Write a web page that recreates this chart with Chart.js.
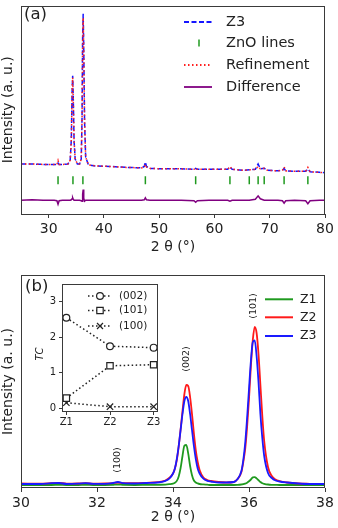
<!DOCTYPE html>
<html>
<head>
<meta charset="utf-8">
<script src="https://cdn.jsdelivr.net/npm/chart.js@4/dist/chart.umd.min.js"></script>
<style>
  body { margin: 0; background: #fff; }
  #wrap { position: relative; width: 338px; height: 528px; overflow: hidden; }
  canvas { position: absolute; }
</style>
</head>
<body>
<div id="wrap">
  <canvas id="chartA" width="338" height="262" style="left:0;top:0"></canvas>
  <canvas id="chartB" width="338" height="266" style="left:0;top:262px"></canvas>
  <canvas id="inset" width="145" height="160" style="left:20px;top:275px"></canvas>
</div>
<script>
// ---- panel (a): full pattern of Z3 with refinement ----
const thetaA = [25, 27, 29, 31.0, 31.5, 31.7, 31.9, 32.5, 33.5, 33.9, 34.1, 34.25, 34.35, 34.45, 34.6, 34.8,
  35.2, 35.6, 35.9, 36.05, 36.15, 36.25, 36.35, 36.5, 36.7, 37.2, 38.5, 41, 44, 46.8, 47.3, 47.5, 47.7, 48.3,
  51, 54, 56.3, 56.6, 56.9, 59, 62.4, 62.8, 63.2, 65.5, 66.3, 67.4, 67.9, 68.3, 69.0, 69.6, 71.5, 72.3, 72.6,
  72.9, 74.5, 76.5, 76.9, 77.3, 79, 80];
const z3A = [51, 51, 50.5, 50.5, 50.5, 52, 50.5, 50.5, 51, 55, 75, 125, 141, 120, 75, 56,
  51, 51, 56, 100, 180, 204, 170, 95, 58, 50, 49, 48.5, 47.5, 47, 48.5, 53, 48.5, 46.5,
  46, 46, 45.5, 46.5, 45.5, 45.5, 45.5, 48, 45.5, 44.5, 45, 45.5, 51, 46, 46.5, 44.5, 44, 44.5, 46.5,
  44, 43.5, 43.5, 46, 43, 42.5, 42];
const refA = [51, 51, 50.5, 50.5, 50.5, 54.5, 50.5, 50.5, 51, 55, 75, 124, 139, 119, 75, 56,
  51, 51, 56, 99, 176, 200, 168, 94, 58, 50, 49, 48.5, 47.5, 47, 48, 50.5, 48, 46.5,
  46, 46, 45.5, 47, 45.5, 45.5, 45.5, 48.5, 45.5, 44.5, 45, 45.5, 48.5, 46, 46.5, 44.5, 44, 44.5, 48,
  44, 43.5, 43.5, 47.5, 43, 42.5, 42];
const diffA = [14, 14.5, 14, 14, 13.5, 10, 13.5, 14, 14, 14, 14.5, 15.5, 16.5, 15, 14, 14,
  14, 14, 13.5, 13, 20, 25, 16, 13, 14, 14, 14, 14, 14, 14, 14.5, 16.5, 14.5, 14,
  14, 14, 13.5, 12, 13.5, 14, 14, 13, 14, 14, 14, 15, 18.5, 15.5, 14, 14, 14, 13.5, 11,
  13.5, 14, 13.5, 10.5, 13.5, 14, 14];
const znoLines = [31.7, 34.4, 36.2, 47.5, 56.6, 62.8, 66.3, 67.9, 69.0, 72.6, 76.9];
const znoLevel = 34.5;
const xTicksA = [30, 40, 50, 60, 70, 80];

// ---- panel (b): zoom on the (100), (002), (101) peaks ----
const thetaB = [30.0, 30.5, 30.8, 31.0, 31.2, 31.5, 31.7, 31.9, 32.2, 32.4, 32.55, 32.7, 33.0, 33.3, 33.6,
  33.8, 33.9, 34.0, 34.05, 34.1, 34.15, 34.2, 34.25, 34.3, 34.35, 34.4, 34.45, 34.5, 34.55, 34.6, 34.65, 34.7,
  34.8, 34.9, 35.0, 35.2, 35.4, 35.6, 35.7, 35.8, 35.85, 35.9, 35.95, 36.0, 36.05, 36.1, 36.15, 36.2, 36.25,
  36.3, 36.35, 36.4, 36.5, 36.6, 36.7, 36.8, 37.0, 37.3, 37.6, 38.0];
const z1B = [3, 3, 3, 3.2, 3, 3, 3.1, 3, 3, 3.1, 3.5, 3.1, 3, 3.1, 3.2,
  3.4, 3.8, 4.4, 5.3, 7.1, 11.6, 20, 32, 42.4, 43, 34.6, 22, 12.8, 7.5, 5.5, 4.6, 4,
  3.6, 3.3, 3, 3, 3, 3, 3.1, 3.5, 3.8, 4.4, 5.3, 6.7, 8.5, 10.6, 10.8, 9.6, 7.8,
  6, 4.8, 4.2, 3.5, 3.2, 3.1, 3, 3, 3, 3, 3];
const z2B = [4.5, 4.3, 4.8, 5.2, 4.3, 4.5, 4.8, 4.3, 4.5, 4.8, 5.5, 4.8, 4.8, 5.2, 5.8,
  7.5, 10, 14.4, 19.4, 27.8, 41.6, 58.5, 77, 94, 103, 102, 91, 74, 54.5, 37.7, 26, 18,
  10.5, 8, 7, 6, 5.5, 6, 9, 16, 26, 39, 61, 89, 122, 148, 161, 155, 134,
  103, 72, 47, 21, 12, 8.5, 7, 5.5, 4.5, 4.2, 4];
const z3B = [4, 4, 4.8, 5, 4, 4.3, 4.8, 4.2, 4.2, 4.8, 6, 4.8, 4.5, 5, 5.5,
  7.2, 9.3, 14.5, 19.6, 29, 42, 58, 74, 87, 91, 87, 74, 58, 42, 29, 19.6, 14.5,
  9.3, 7.2, 6.5, 5.5, 5.5, 6, 9, 17, 28, 45, 70, 99, 127, 146, 147.5, 132, 106,
  74, 50, 32, 15, 10, 7.5, 6.5, 5.5, 4.5, 4, 4];
const xTicksB = [30, 32, 34, 36, 38];
const peakNotes = [
  { text: '(100)', x: 32.55, y: 28 },
  { text: '(002)', x: 34.36, y: 129 },
  { text: '(101)', x: 36.13, y: 182 }
];

// ---- inset: texture coefficients ----
const tcSamples = ['Z1', 'Z2', 'Z3'];
const tc002 = [2.55, 1.75, 1.71];
const tc101 = [0.29, 1.20, 1.23];
const tc100 = [0.16, 0.05, 0.05];
const tcTicks = [0, 1, 2, 3];

Chart.defaults.font.family = 'DejaVu Sans';
Chart.defaults.color = '#222';
const INK = '#222';
const FRAME = '#3a3a3a';

const pts = (xs, ys) => xs.map((x, i) => ({ x: x, y: ys[i] }));

function drawFrame(chart) {
  const { ctx, chartArea: a } = chart;
  ctx.save();
  ctx.strokeStyle = FRAME;
  ctx.lineWidth = 1;
  ctx.strokeRect(Math.round(a.left) + 0.5, Math.round(a.top) + 0.5,
    Math.round(a.right - a.left) - 1, Math.round(a.bottom - a.top) - 1);
  ctx.restore();
}

function legendLine(ctx, x1, x2, y, color, width, dash) {
  ctx.save();
  ctx.strokeStyle = color;
  ctx.lineWidth = width;
  ctx.setLineDash(dash || []);
  ctx.beginPath();
  ctx.moveTo(x1, y);
  ctx.lineTo(x2, y);
  ctx.stroke();
  ctx.restore();
}

function legendText(ctx, text, x, y, font, rot) {
  ctx.save();
  ctx.fillStyle = INK;
  ctx.font = font;
  ctx.textAlign = rot ? 'center' : 'left';
  ctx.textBaseline = 'middle';
  ctx.translate(x, y);
  if (rot) ctx.rotate(rot);
  ctx.fillText(text, 0, 0);
  ctx.restore();
}

function marker(ctx, style, x, y) {
  ctx.save();
  ctx.strokeStyle = INK;
  ctx.fillStyle = '#fff';
  ctx.lineWidth = 1.2;
  ctx.beginPath();
  if (style === 'circle') {
    ctx.arc(x, y, 3.4, 0, Math.PI * 2);
    ctx.fill();
    ctx.stroke();
  } else if (style === 'rect') {
    ctx.rect(x - 3.2, y - 3.2, 6.4, 6.4);
    ctx.fill();
    ctx.stroke();
  } else {
    ctx.moveTo(x - 3, y - 3); ctx.lineTo(x + 3, y + 3);
    ctx.moveTo(x - 3, y + 3); ctx.lineTo(x + 3, y - 3);
    ctx.stroke();
  }
  ctx.restore();
}

// ---- Chart A ----
new Chart(document.getElementById('chartA'), {
  type: 'line',
  data: {
    datasets: [
      { label: 'Z3', data: pts(thetaA, z3A), borderColor: '#1515ff', borderWidth: 1.5,
        borderDash: [5, 2.5], pointRadius: 0, order: 2 },
      { label: 'ZnO lines', data: znoLines.map(x => ({ x: x, y: znoLevel })), showLine: false,
        pointStyle: 'line', pointRotation: 90, pointRadius: 4, pointBorderWidth: 1.5,
        pointBorderColor: '#1f9a1f', borderColor: '#1f9a1f', order: 4 },
      { label: 'Refinement', data: pts(thetaA, refA), borderColor: '#ff2020', borderWidth: 1.5,
        borderDash: [1.5, 2.5], pointRadius: 0, order: 1 },
      { label: 'Difference', data: pts(thetaA, diffA), borderColor: '#800080', borderWidth: 1.5,
        pointRadius: 0, order: 3 }
    ]
  },
  options: {
    responsive: false,
    animation: false,
    layout: { padding: { top: 1.5, right: 13, left: 0, bottom: 0 } },
    plugins: { legend: { display: false }, tooltip: { enabled: false } },
    scales: {
      x: {
        type: 'linear', min: 25, max: 80,
        afterBuildTicks: s => { s.ticks = xTicksA.map(v => ({ value: v })); },
        afterFit: s => { s.height = 48; },
        grid: { display: true, drawOnChartArea: false, tickLength: 4, color: FRAME },
        border: { display: false },
        ticks: { font: { size: 14 }, color: INK, padding: 3, maxRotation: 0 },
        title: { display: true, text: '2 θ (°)', font: { size: 14 }, color: INK, padding: { top: 0, bottom: 6 } }
      },
      y: {
        min: 0, max: 212.5,
        afterFit: s => { s.width = 21; },
        grid: { display: false },
        border: { display: false },
        ticks: { display: false },
        title: { display: true, text: 'Intensity (a. u.)', font: { size: 14 }, color: INK, padding: 0 }
      }
    }
  },
  plugins: [{
    id: 'decorA',
    afterDraw(chart) {
      const ctx = chart.ctx;
      drawFrame(chart);
      legendText(ctx, '(a)', 24, 15, '16.5px "DejaVu Sans"');
      legendLine(ctx, 184, 212, 22, '#1515ff', 1.8, [5, 2.5]);
      legendText(ctx, 'Z3', 226, 22, '14.5px "DejaVu Sans"');
      ctx.save(); ctx.strokeStyle = '#1f9a1f'; ctx.lineWidth = 1.5;
      ctx.beginPath(); ctx.moveTo(199, 39.5); ctx.lineTo(199, 46.5); ctx.stroke(); ctx.restore();
      legendText(ctx, 'ZnO lines', 226, 43.5, '14.5px "DejaVu Sans"');
      legendLine(ctx, 184, 212, 65, '#ff2020', 1.8, [1.5, 2.5]);
      legendText(ctx, 'Refinement', 226, 65, '14.5px "DejaVu Sans"');
      legendLine(ctx, 184, 212, 87, '#800080', 1.8);
      legendText(ctx, 'Difference', 226, 87, '14.5px "DejaVu Sans"');
    }
  }]
});

// ---- Chart B ----
new Chart(document.getElementById('chartB'), {
  type: 'line',
  data: {
    datasets: [
      { label: 'Z1', data: pts(thetaB, z1B), borderColor: '#1f9a1f', borderWidth: 1.8,
        pointRadius: 0, cubicInterpolationMode: 'monotone', order: 3 },
      { label: 'Z2', data: pts(thetaB, z2B), borderColor: '#ff1a1a', borderWidth: 1.8,
        pointRadius: 0, cubicInterpolationMode: 'monotone', order: 2 },
      { label: 'Z3', data: pts(thetaB, z3B), borderColor: '#1a1aff', borderWidth: 1.8,
        pointRadius: 0, cubicInterpolationMode: 'monotone', order: 1 }
    ]
  },
  options: {
    responsive: false,
    animation: false,
    layout: { padding: { top: 13, right: 13, left: 0, bottom: 0 } },
    plugins: { legend: { display: false }, tooltip: { enabled: false } },
    scales: {
      x: {
        type: 'linear', min: 30, max: 38,
        afterBuildTicks: s => { s.ticks = xTicksB.map(v => ({ value: v })); },
        afterFit: s => { s.height = 40; },
        grid: { display: true, drawOnChartArea: false, tickLength: 4, color: FRAME },
        border: { display: false },
        ticks: { font: { size: 14 }, color: INK, padding: 3, maxRotation: 0 },
        title: { display: true, text: '2 θ (°)', font: { size: 14 }, color: INK, padding: { top: 0, bottom: 2 } }
      },
      y: {
        min: 0, max: 213,
        afterFit: s => { s.width = 21; },
        grid: { display: false },
        border: { display: false },
        ticks: { display: false },
        title: { display: true, text: 'Intensity (a. u.)', font: { size: 14 }, color: INK, padding: 0 }
      }
    }
  },
  plugins: [{
    id: 'decorB',
    afterDraw(chart) {
      const ctx = chart.ctx;
      const sx = chart.scales.x, sy = chart.scales.y;
      drawFrame(chart);
      legendText(ctx, '(b)', 25, 25, '16.5px "DejaVu Sans"');
      peakNotes.forEach(n => {
        legendText(ctx, n.text, sx.getPixelForValue(n.x), sy.getPixelForValue(n.y),
          '9.5px "DejaVu Sans"', -Math.PI / 2);
      });
      const keys = [['Z1', '#1f9a1f', 37.3], ['Z2', '#ff1a1a', 55.3], ['Z3', '#1a1aff', 74]];
      keys.forEach(k => {
        legendLine(ctx, 265, 293, k[2], k[1], 2);
        legendText(ctx, k[0], 300, k[2], '12.5px "DejaVu Sans"');
      });
    }
  }]
});

// ---- Inset ----
const tcStyle = (label, values, style) => ({
  label: label, data: values.map((v, i) => ({ x: i, y: v })),
  borderColor: INK, borderWidth: 1.5, borderDash: [1.5, 2.5],
  pointStyle: style, pointRadius: style === 'circle' ? 3.4 : 4.5, pointBorderWidth: 1.2,
  pointBorderColor: INK, pointBackgroundColor: '#fff'
});

new Chart(document.getElementById('inset'), {
  type: 'line',
  data: {
    datasets: [
      tcStyle('(002)', tc002, 'circle'),
      tcStyle('(101)', tc101, 'rect'),
      tcStyle('(100)', tc100, 'crossRot')
    ]
  },
  options: {
    responsive: false,
    animation: false,
    layout: { padding: { top: 0, right: 7, left: 0, bottom: 0 } },
    plugins: { legend: { display: false }, tooltip: { enabled: false } },
    scales: {
      x: {
        type: 'linear', min: -0.1, max: 2.1,
        afterBuildTicks: s => { s.ticks = tcSamples.map((v, i) => ({ value: i })); },
        afterFit: s => { s.height = 23; },
        grid: { display: true, drawOnChartArea: false, tickLength: 3, color: FRAME },
        border: { display: false },
        ticks: { font: { size: 10 }, color: INK, padding: 1, maxRotation: 0,
          callback: v => tcSamples[v] }
      },
      y: {
        min: -0.1, max: 3.5,
        afterBuildTicks: s => { s.ticks = tcTicks.map(v => ({ value: v })); },
        afterFit: s => { s.width = 42; },
        grid: { display: true, drawOnChartArea: false, tickLength: 3, color: FRAME },
        border: { display: false },
        ticks: { font: { size: 10 }, color: INK, padding: 3 }
      }
    }
  },
  plugins: [{
    id: 'decorInset',
    beforeDraw(chart) {
      const { ctx, chartArea: a } = chart;
      ctx.save();
      ctx.fillStyle = '#fff';
      ctx.fillRect(a.left, a.top, a.right - a.left, a.bottom - a.top);
      ctx.restore();
    },
    afterDraw(chart) {
      const ctx = chart.ctx;
      drawFrame(chart);
      legendText(ctx, 'TC', 20, 79, 'italic 10px "DejaVu Sans"', -Math.PI / 2);
      const keys = [['(002)', 'circle', 21], ['(101)', 'rect', 35.5], ['(100)', 'crossRot', 51]];
      keys.forEach(k => {
        legendLine(ctx, 68, 92, k[2], INK, 1.5, [1.5, 2.5]);
        marker(ctx, k[1], 80, k[2]);
        legendText(ctx, k[0], 99, k[2], '10.5px "DejaVu Sans"');
      });
    }
  }]
});
</script>
</body>
</html>
